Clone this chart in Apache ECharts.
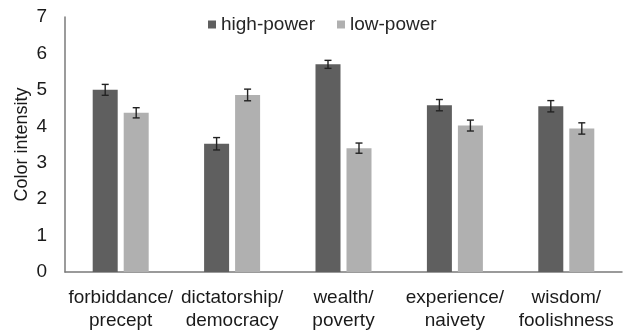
<!DOCTYPE html>
<html>
<head>
<meta charset="utf-8">
<script src="https://cdn.jsdelivr.net/npm/echarts@6/dist/echarts.min.js"></script>
<style>
  html, body { margin: 0; padding: 0; background: #fff; }
  #chart { width: 624px; height: 332px; }
</style>
</head>
<body>
<div id="chart"></div>
<script>
// Word pairs on the x axis
const categories = ['forbiddance/\nprecept', 'dictatorship/\ndemocracy', 'wealth/\npoverty', 'experience/\nnaivety', 'wisdom/\nfoolishness'];

// Mean colour intensity per condition
const highPower = [5.00, 3.52, 5.70, 4.58, 4.55];
const lowPower = [4.37, 4.86, 3.40, 4.02, 3.94];

// Standard errors
const highPowerErr = [0.15, 0.17, 0.11, 0.155, 0.155];
const lowPowerErr = [0.14, 0.16, 0.14, 0.15, 0.155];

// Y axis ticks
const yTicks = [0, 1, 2, 3, 4, 5, 6, 7];

const FONT = 'Liberation Sans, Arial, sans-serif';
const BAR_W = 25;
const BAR_GAP_PX = 6;
const HALF_STEP = (BAR_W + BAR_GAP_PX) / 2;

function errorSeries(name, means, errs, shift) {
  return {
    name: name,
    type: 'custom',
    z: 10,
    silent: true,
    data: means.map((m, i) => [i, m - errs[i], m + errs[i]]),
    renderItem: function (params, api) {
      const idx = api.value(0);
      const lo = api.coord([idx, api.value(1)]);
      const hi = api.coord([idx, api.value(2)]);
      const x = lo[0] + shift;
      const cap = 3.5;
      const style = { stroke: '#222', lineWidth: 1.4 };
      return {
        type: 'group',
        children: [
          { type: 'line', shape: { x1: x, y1: hi[1], x2: x, y2: lo[1] }, style: style },
          { type: 'line', shape: { x1: x - cap, y1: hi[1], x2: x + cap, y2: hi[1] }, style: style },
          { type: 'line', shape: { x1: x - cap, y1: lo[1], x2: x + cap, y2: lo[1] }, style: style }
        ]
      };
    }
  };
}

const chart = echarts.init(document.getElementById('chart'), null, { renderer: 'canvas' });
chart.setOption({
  animation: false,
  backgroundColor: '#ffffff',
  textStyle: { fontFamily: FONT },
  legend: {
    data: ['high-power', 'low-power'],
    left: 203,
    top: 10,
    icon: 'rect',
    itemWidth: 8,
    itemHeight: 8,
    itemGap: 22,
    textStyle: { fontSize: 19, color: '#262626', fontFamily: FONT, padding: [0, 0, 0, 0] }
  },
  grid: { left: 65, right: 2, top: 17, bottom: 59, containLabel: false },
  xAxis: {
    type: 'category',
    data: categories,
    axisLine: { show: true, lineStyle: { color: '#7a7a7a', width: 1.5 } },
    axisTick: { show: false },
    axisLabel: {
      color: '#1a1a1a',
      fontSize: 19,
      fontFamily: FONT,
      lineHeight: 23,
      margin: 14,
      interval: 0
    }
  },
  yAxis: {
    type: 'value',
    min: yTicks[0],
    max: yTicks[yTicks.length - 1],
    interval: 1,
    name: 'Color intensity',
    nameLocation: 'middle',
    nameGap: 43,
    nameMoveOverlap: false,
    nameRotate: 90,
    nameTextStyle: { fontSize: 18, color: '#1a1a1a', fontFamily: FONT, verticalAlign: 'middle' },
    axisLine: { show: true, lineStyle: { color: '#7a7a7a', width: 1.5 } },
    axisTick: { show: false },
    splitLine: { show: false },
    axisLabel: { color: '#1a1a1a', fontSize: 19, fontFamily: FONT, margin: 18 }
  },
  series: [
    {
      name: 'high-power',
      type: 'bar',
      data: highPower,
      barWidth: BAR_W,
      barGap: (BAR_GAP_PX / BAR_W * 100) + '%',
      itemStyle: { color: '#5f5f5f' }
    },
    {
      name: 'low-power',
      type: 'bar',
      data: lowPower,
      barWidth: BAR_W,
      itemStyle: { color: '#b0b0b0' }
    },
    errorSeries('high-power-err', highPower, highPowerErr, -HALF_STEP),
    errorSeries('low-power-err', lowPower, lowPowerErr, HALF_STEP)
  ]
});
</script>
</body>
</html>
